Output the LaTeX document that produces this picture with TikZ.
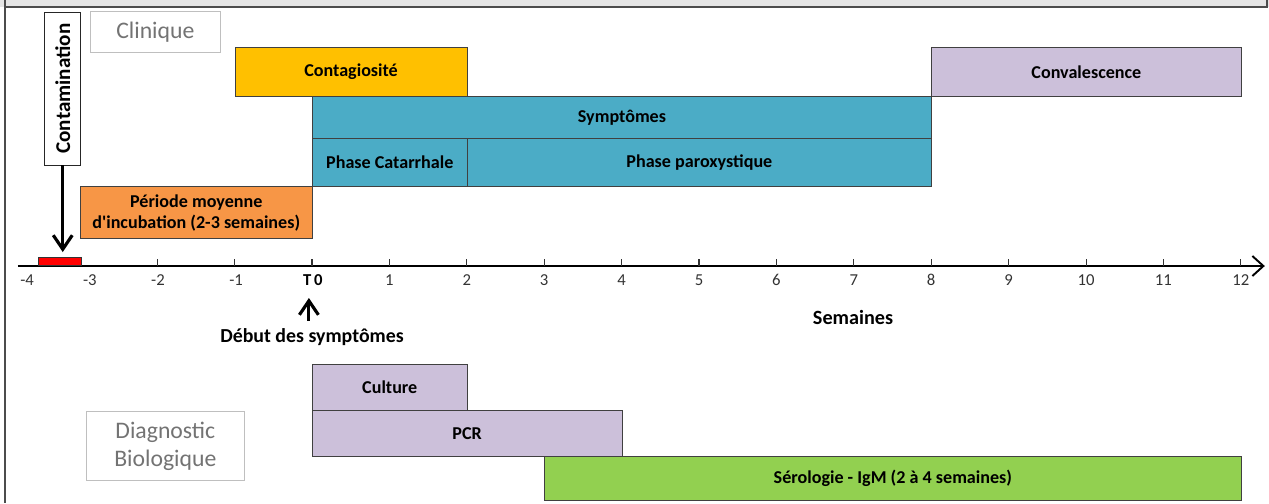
\documentclass[tikz,border=0pt]{standalone}
\usepackage{fontspec}
\setmainfont{Carlito}
\usetikzlibrary{positioning}
\usetikzlibrary{arrows.meta}

\definecolor{contag}{HTML}{FFC000}
\definecolor{lavande}{HTML}{CCC0DA}
\definecolor{sympt}{HTML}{4BACC6}
\definecolor{incub}{HTML}{F79646}
\definecolor{sero}{HTML}{92D050}

\begin{document}
\begin{tikzpicture}[x=1.548cm, y=1cm]

 \tikzset{phase/.style={
 		draw=black!75,
 		inner sep=0pt,
 		anchor=south west,
 		font=\bfseries\fontsize{10.3}{12}\selectfont
 	},
 	title box/.style={draw=black!25, text=black!55, inner sep=0pt, anchor=south west, align=center,
 		font=\fontsize{13.5}{16}\selectfont},
 	week/.style={text=black!80, font=\fontsize{9.5}{11}\selectfont},
 	big arrow/.style={-{Straight Barb[length=2.8mm, width=3.8mm]}, line width=1.8pt}
 }
 \useasboundingbox (-4.031,-4.74) rectangle (12.364,5.32);

 % cadre
 \fill[black!10] (-4.031,5.18) rectangle (12.364,5.32);
 \draw[black!70, line width=0.8pt] (-3.966,5.18) -- (12.34,5.18) -- (12.34,5.32);
 \draw[black!70, line width=1.6pt] (-3.966,5.32) -- (-3.966,-4.74);

 % axe
 \draw[-{Straight Barb[length=2.2mm, width=4mm]}, line width=1.1pt] (-3.80,0) -- (12.31,0);
 \foreach \i in {-2,...,12}
 	\draw[black!80, line width=0.6pt] (\i,0) -- (\i,0.14);
 \foreach \i in {1,...,12}
 	\node[week] (w\i) at (\i,-0.28) {\i};
 \node[week] (wm4) at (-3.68,-0.28) {-4};
 \node[week] (wm3) at (-2.87,-0.28) {-3};
 \node[week] (wm2) at (-1.99,-0.28) {-2};
 \node[week] (wm1) at (-0.98,-0.28) {-1};
 \node[week, text=black, font=\bfseries\fontsize{9.5}{11}\selectfont] (t0) at (0.01,-0.28) {T\,0};
 \node[font=\bfseries\fontsize{11.5}{13}\selectfont] (semaines) at (6.99,-1.02) {Semaines};

 \node[draw=black!80, fill=red, inner sep=0pt, anchor=south west,
 	minimum width=0.867cm, minimum height=0.16cm] (redbar) at (-3.54,0) {};

 % clinique
 \node[title box, minimum width=2.6cm, minimum height=0.82cm] (clinique) at (-2.868,4.26) {Clinique};
 \node[phase, fill=contag, minimum width=4.644cm, minimum height=0.98cm] (contag) at (-1,3.38) {Contagiosité};
 \node[phase, fill=lavande, minimum width=6.192cm, minimum height=0.98cm] (conval) at (8,3.38) {Convalescence};
 \node[phase, fill=sympt, minimum width=12.384cm, minimum height=0.84cm] (sympt) at (0,2.54) {Symptômes};
 \node[phase, fill=sympt, minimum width=3.096cm, minimum height=0.96cm] (catar) at (0,1.58) {Phase Catarrhale};
 \node[phase, fill=sympt, minimum width=9.288cm, minimum height=0.96cm] (parox) at (2,1.58) {Phase paroxystique};
 \node[phase, fill=incub, minimum width=4.644cm, minimum height=1.04cm, align=center] (incub) at (-3,0.54)
 	{Période moyenne\\d\textquotesingle incubation (2-3 semaines)};

 \node[draw=black!85, fill=white, rotate=90, minimum width=3.06cm, minimum height=0.72cm,
 	inner sep=0pt, font=\bfseries\fontsize{12}{14}\selectfont] (contam) at (-3.22,3.55) {Contamination};
 \draw[big arrow] (contam.west) -- ([yshift=3pt]contam.west |- redbar.north);

 \node[font=\bfseries\fontsize{11.3}{13}\selectfont] (debut) at (0,-1.42) {Début des symptômes};
 \coordinate (t0tip) at (-0.04,-0.64);
 \draw[big arrow] ([yshift=1pt]t0tip |- debut.north) -- (t0tip);

 % diagnostic
 \node[title box, minimum width=3.16cm, minimum height=1.38cm] (diag) at (-2.92,-4.30) {Diagnostic\\Biologique};
 \node[phase, fill=lavande, minimum width=3.096cm, minimum height=0.92cm] (culture) at (0,-2.90) {Culture};
 \node[phase, fill=lavande, minimum width=6.192cm, minimum height=0.92cm] (pcr) at (0,-3.82) {PCR};
 \node[phase, fill=sero, minimum width=13.932cm, minimum height=0.88cm] (sero) at (3,-4.70) {Sérologie - IgM (2 à 4 semaines)};

\end{tikzpicture}
\end{document}
